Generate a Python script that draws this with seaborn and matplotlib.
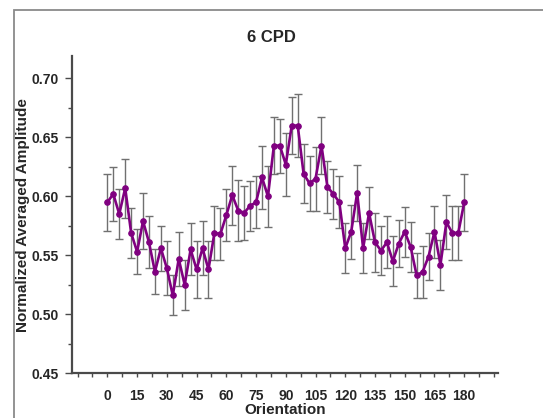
import numpy as np
import pandas as pd
import matplotlib
matplotlib.use("Agg")
import matplotlib.pyplot as plt
import seaborn as sns
from matplotlib.patches import Rectangle
from matplotlib.ticker import MultipleLocator

orientation = list(range(0, 181, 3))
amplitude = [0.595, 0.602, 0.585, 0.607, 0.569, 0.553, 0.579, 0.561, 0.536, 0.556,
             0.539, 0.516, 0.547, 0.525, 0.555, 0.538, 0.556, 0.538, 0.569, 0.568,
             0.584, 0.601, 0.588, 0.586, 0.592, 0.595, 0.616, 0.600, 0.643, 0.643,
             0.627, 0.660, 0.660, 0.619, 0.611, 0.615, 0.643, 0.608, 0.602, 0.595,
             0.556, 0.570, 0.603, 0.556, 0.586, 0.561, 0.554, 0.561, 0.545, 0.560,
             0.570, 0.557, 0.533, 0.536, 0.549, 0.570, 0.542, 0.578, 0.569, 0.569,
             0.595]
sem = [0.024, 0.023, 0.021, 0.025, 0.021, 0.019, 0.024, 0.022, 0.019, 0.019,
       0.023, 0.017, 0.023, 0.021, 0.022, 0.024, 0.023, 0.024, 0.023, 0.022,
       0.022, 0.025, 0.026, 0.023, 0.021, 0.022, 0.027, 0.026, 0.024, 0.023,
       0.027, 0.024, 0.027, 0.025, 0.023, 0.027, 0.024, 0.022, 0.021, 0.022,
       0.021, 0.023, 0.024, 0.021, 0.022, 0.025, 0.021, 0.022, 0.021, 0.020,
       0.021, 0.021, 0.019, 0.022, 0.020, 0.022, 0.021, 0.023, 0.023, 0.023,
       0.024]
xtick_labels = list(range(0, 181, 15))
ytick_labels = [0.45, 0.50, 0.55, 0.60, 0.65, 0.70]

df = pd.DataFrame({"Orientation": orientation, "Amplitude": amplitude, "SEM": sem})

sns.set_style("white")
plt.rcParams["font.family"] = ["Liberation Sans", "DejaVu Sans"]

fig = plt.figure(figsize=(5.43, 4.18), dpi=100)
ax = fig.add_axes([0.132, 0.107, 0.785, 0.759])

fig.patches.append(Rectangle((14 / 543, -0.1), 1.2, 1 - 10 / 418 + 0.1,
                             transform=fig.transFigure, fill=False,
                             edgecolor="#8a8a8a", linewidth=1.3, zorder=0))

ax.errorbar(df["Orientation"], df["Amplitude"], yerr=df["SEM"], fmt="none",
            ecolor="#707070", elinewidth=1.0, capsize=2.8, capthick=1.0, zorder=1)
sns.lineplot(data=df, x="Orientation", y="Amplitude", ax=ax, color="#800080",
             linewidth=1.9, marker="o", markersize=4, markeredgecolor="#800080",
             zorder=3)

ax.set_xlim(-18, 197)
ax.set_ylim(0.45, 0.719)
ax.set_xticks(xtick_labels)
ax.set_xticklabels([str(v) for v in xtick_labels])
ax.xaxis.set_minor_locator(MultipleLocator(7.5))
ax.set_yticks(ytick_labels)
ax.set_yticklabels([f"{v:.2f}" for v in ytick_labels])
ax.yaxis.set_minor_locator(MultipleLocator(0.025))

for s in ["top", "right"]:
    ax.spines[s].set_visible(False)
for s in ["left", "bottom"]:
    ax.spines[s].set_color("#4a4a4a")
    ax.spines[s].set_linewidth(1.6)

ax.tick_params(axis="both", which="both", bottom=True, left=True, direction="out",
               color="#4a4a4a", width=1.0)
ax.tick_params(axis="y", which="major", length=5, labelsize=10, pad=4)
ax.tick_params(axis="y", which="minor", length=3)
ax.tick_params(axis="x", which="major", length=3, labelsize=10, pad=8)
ax.tick_params(axis="x", which="minor", length=3)
for lab in ax.get_xticklabels() + ax.get_yticklabels():
    lab.set_fontweight("bold")

ax.set_xlabel("Orientation", fontsize=11, fontweight="bold", labelpad=0)
ax.set_ylabel("Normalized Averaged Amplitude", fontsize=11, fontweight="bold")
ax.yaxis.set_label_coords(-0.098, 0.5)
ax.xaxis.set_label_coords(0.5, -0.093)
fig.text(0.5, 1 - 37 / 418, "6 CPD", ha="center", va="center", fontsize=12,
         fontweight="bold")

fig.savefig("out.png", dpi=100, facecolor="white")
